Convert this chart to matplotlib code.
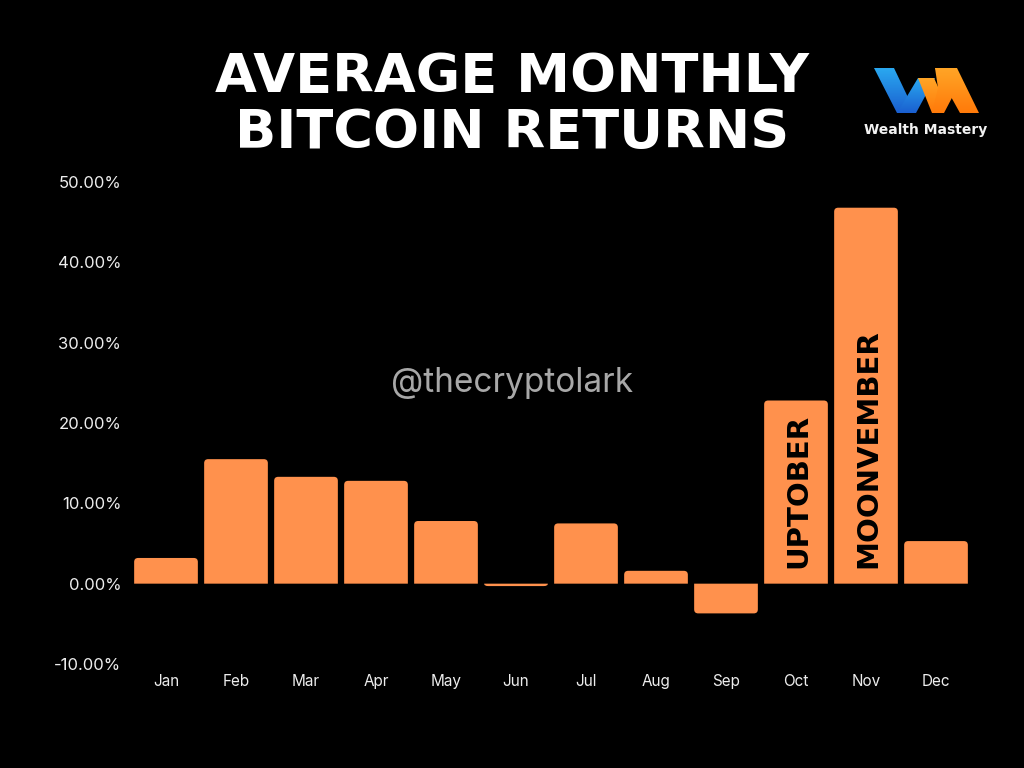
import matplotlib
matplotlib.use('Agg')
import matplotlib.pyplot as plt
from matplotlib.patches import PathPatch, Polygon
from matplotlib.path import Path
import numpy as np

# ---- data ----
months = ['Jan', 'Feb', 'Mar', 'Apr', 'May', 'Jun', 'Jul', 'Aug', 'Sep', 'Oct', 'Nov', 'Dec']
returns = [3.2, 15.5, 13.3, 12.8, 7.8, -0.3, 7.5, 1.6, -3.7, 22.8, 46.8, 5.3]
yticks = [-10, 0, 10, 20, 30, 40, 50]
ytick_labels = [f'{v:.2f}%' for v in yticks]
annot_months = ['Oct', 'Nov']
annot_texts = ['UPTOBER', 'MOONVEMBER']
title_lines = ['AVERAGE MONTHLY', 'BITCOIN RETURNS']
watermark = '@thecryptolark'
brand = 'Wealth Mastery'

BAR = '#FF914D'
W, H = 1024, 768

fig = plt.figure(figsize=(W / 100, H / 100), dpi=100, facecolor='black')
ax_l, ax_r, ax_t, ax_b = 131, 971, 182, 664
ax = fig.add_axes([ax_l / W, 1 - ax_b / H, (ax_r - ax_l) / W, (ax_b - ax_t) / H])
ax.set_facecolor('black')
x = np.arange(len(months))
ax.set_xlim(-0.5, 11.5)
ax.set_ylim(-10, 50)
bars = ax.bar(x, returns, width=0.91, color='none', edgecolor='none')

px_x = (ax_r - ax_l) / 12.0
px_y = (ax_b - ax_t) / 60.0
r_px = 4.0
for b in bars:
    x0 = b.get_x()
    w = b.get_width()
    x1 = x0 + w
    h = b.get_height()
    s = 1.0 if h >= 0 else -1.0
    ry = min(r_px / px_y, abs(h))
    rx = min(r_px / px_x, w / 2)
    verts = [(x0, 0), (x0, h - s * ry), (x0, h), (x0 + rx, h), (x1 - rx, h),
             (x1, h), (x1, h - s * ry), (x1, 0), (x0, 0)]
    codes = [Path.MOVETO, Path.LINETO, Path.CURVE3, Path.CURVE3, Path.LINETO,
             Path.CURVE3, Path.CURVE3, Path.LINETO, Path.CLOSEPOLY]
    ax.add_patch(PathPatch(Path(verts, codes), facecolor=BAR, edgecolor='none', zorder=2))

for sp in ax.spines.values():
    sp.set_visible(False)
ax.set_yticks(yticks, ytick_labels)
ax.set_xticks(x, months)
ax.tick_params(axis='y', length=0, pad=7, labelsize=12, labelcolor='#EDEDED')
ax.tick_params(axis='x', length=0, pad=7.5, labelsize=11, labelcolor='#EDEDED')
for lab in ax.get_yticklabels() + ax.get_xticklabels():
    lab.set_family('Inter')

for m, t in zip(annot_months, annot_texts):
    i = months.index(m)
    ax.text(i + 0.03, 1.9, t, rotation=90, ha='center', va='bottom', fontsize=21,
            fontweight='bold', color='black', family='DejaVu Sans', zorder=3)

# ---- titles ----
fig.text(512 / W, 1 - 92 / H, title_lines[0], ha='center', va='baseline', fontsize=39,
         fontweight='bold', color='white', family='DejaVu Sans')
fig.text(512 / W, 1 - 148 / H, title_lines[1], ha='center', va='baseline', fontsize=39,
         fontweight='bold', color='white', family='DejaVu Sans')

fig.text(512 / W, 1 - 383 / H, watermark, ha='center', va='center', fontsize=24,
         color='#A8A8A8', family='Inter')

# ---- logo ----
ov = fig.add_axes([0, 0, 1, 1], facecolor='none')
ov.set_xlim(0, W)
ov.set_ylim(H, 0)
ov.axis('off')


def grad_poly(pts, c_top, c_bot):
    poly = Polygon(pts, closed=True, facecolor='none', edgecolor='none')
    ov.add_patch(poly)
    xs = [p[0] for p in pts]
    ys = [p[1] for p in pts]
    c1 = np.array(matplotlib.colors.to_rgb(c_top))
    c2 = np.array(matplotlib.colors.to_rgb(c_bot))
    t = np.linspace(0, 1, 64)[:, None]
    img = (c1 * (1 - t) + c2 * t)[:, None, :]
    im = ov.imshow(img, extent=(min(xs), max(xs), max(ys), min(ys)), aspect='auto',
                   interpolation='bilinear', zorder=5)
    im.set_clip_path(poly)


blue_t, blue_b = '#2AA8F0', '#1A5FD0'
or_t, or_b = '#FFA526', '#FF7A0A'
grad_poly([(874, 68), (894, 68), (914, 110), (905, 113), (897, 113)], blue_t, blue_b)
grad_poly([(897, 113), (916, 113), (935, 78), (918, 78)], blue_t, blue_b)
grad_poly([(918, 78), (934, 78), (944, 100), (938, 113), (932, 113)], or_t, or_b)
grad_poly([(932, 113), (944, 113), (955, 92), (950, 68), (935, 68), (938, 88)], or_t, or_b)
grad_poly([(935, 68), (957, 68), (979, 113), (960, 113)], or_t, or_b)
ov.text(926, 130, brand, ha='center', va='center', fontsize=10, fontweight='bold',
        color='#F2F2F2', family='DejaVu Sans', zorder=6)

fig.savefig('out.png', dpi=100, facecolor='black')
